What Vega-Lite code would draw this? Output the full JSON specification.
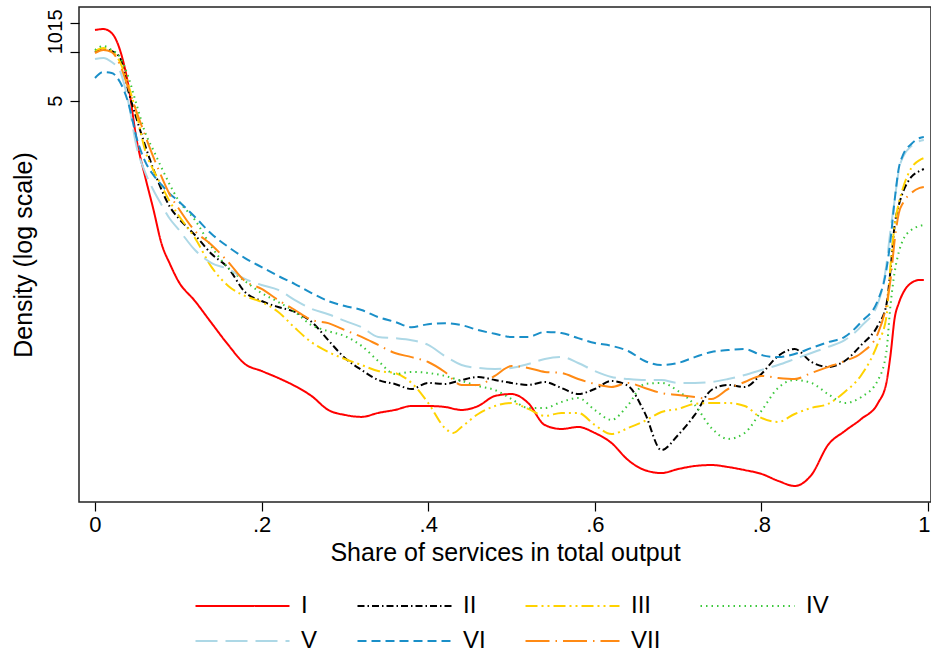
{
"$schema": "https://vega.github.io/schema/vega-lite/v6.json",
"width": 852, "height": 495,
"autosize": "none",
"padding": {"left": 79, "top": 7, "right": 0, "bottom": 152},
"background": "white",
"config": {
  "font": "Liberation Sans",
  "view": {"stroke": "#222", "strokeWidth": 1.5},
  "axis": {"grid": false, "domain": false, "tickColor": "#000", "tickWidth": 1.2, "labelColor": "#000", "titleColor": "#000", "labelFont": "Liberation Sans", "titleFont": "Liberation Sans", "titleFontWeight": "normal"},
  "legend": {"orient": "none", "legendX": 115, "legendY": 587, "direction": "horizontal", "columns": 4, "title": null, "symbolType": "stroke", "symbolSize": 8836, "symbolStrokeWidth": 2.2, "clipHeight": 24, "rowPadding": 11, "columnPadding": 38, "labelOffset": 10, "labelFontSize": 24, "labelFont": "Liberation Sans", "labelColor": "#000", "padding": 0, "gridAlign": "each"}
},
"data": {"values": [
{"s":"I","x":0,"d":13.59},{"s":"I","x":0.01,"d":13.78},{"s":"I","x":0.02,"d":13.03},{"s":"I","x":0.03,"d":10.24},{"s":"I","x":0.04,"d":6.24},{"s":"I","x":0.05,"d":2.87},{"s":"I","x":0.06,"d":1.724},{"s":"I","x":0.07,"d":1.081},{"s":"I","x":0.08,"d":0.659},{"s":"I","x":0.09,"d":0.496},{"s":"I","x":0.1,"d":0.39},{"s":"I","x":0.12,"d":0.294},{"s":"I","x":0.14,"d":0.215},{"s":"I","x":0.16,"d":0.158},{"s":"I","x":0.18,"d":0.1207},{"s":"I","x":0.2,"d":0.1093},{"s":"I","x":0.22,"d":0.099},{"s":"I","x":0.24,"d":0.0884},{"s":"I","x":0.26,"d":0.0767},{"s":"I","x":0.28,"d":0.063},{"s":"I","x":0.3,"d":0.0587},{"s":"I","x":0.32,"d":0.0571},{"s":"I","x":0.34,"d":0.0604},{"s":"I","x":0.36,"d":0.063},{"s":"I","x":0.38,"d":0.0666},{"s":"I","x":0.4,"d":0.0666},{"s":"I","x":0.42,"d":0.0657},{"s":"I","x":0.44,"d":0.063},{"s":"I","x":0.46,"d":0.0666},{"s":"I","x":0.48,"d":0.0767},{"s":"I","x":0.5,"d":0.0789},{"s":"I","x":0.52,"d":0.0695},{"s":"I","x":0.54,"d":0.0509},{"s":"I","x":0.56,"d":0.0481},{"s":"I","x":0.58,"d":0.0495},{"s":"I","x":0.6,"d":0.0455},{"s":"I","x":0.62,"d":0.0395},{"s":"I","x":0.64,"d":0.031},{"s":"I","x":0.66,"d":0.0269},{"s":"I","x":0.68,"d":0.0258},{"s":"I","x":0.7,"d":0.0273},{"s":"I","x":0.72,"d":0.0285},{"s":"I","x":0.74,"d":0.0289},{"s":"I","x":0.76,"d":0.0281},{"s":"I","x":0.78,"d":0.0269},{"s":"I","x":0.8,"d":0.0255},{"s":"I","x":0.82,"d":0.0231},{"s":"I","x":0.84,"d":0.0215},{"s":"I","x":0.86,"d":0.0251},{"s":"I","x":0.88,"d":0.0384},{"s":"I","x":0.9,"d":0.0467},{"s":"I","x":0.92,"d":0.0555},{"s":"I","x":0.94,"d":0.0695},{"s":"I","x":0.95,"d":0.0923},{"s":"I","x":0.955,"d":0.137},{"s":"I","x":0.96,"d":0.231},{"s":"I","x":0.965,"d":0.286},{"s":"I","x":0.97,"d":0.329},{"s":"I","x":0.98,"d":0.38},{"s":"I","x":0.99,"d":0.396},{"s":"I","x":0.995,"d":0.396},
{"s":"II","x":0,"d":9.95},{"s":"II","x":0.01,"d":10.39},{"s":"II","x":0.02,"d":10.1},{"s":"II","x":0.03,"d":9.15},{"s":"II","x":0.04,"d":5.74},{"s":"II","x":0.05,"d":3.86},{"s":"II","x":0.06,"d":2.67},{"s":"II","x":0.07,"d":1.904},{"s":"II","x":0.08,"d":1.415},{"s":"II","x":0.09,"d":1.112},{"s":"II","x":0.1,"d":0.952},{"s":"II","x":0.12,"d":0.748},{"s":"II","x":0.14,"d":0.572},{"s":"II","x":0.16,"d":0.469},{"s":"II","x":0.18,"d":0.334},{"s":"II","x":0.2,"d":0.294},{"s":"II","x":0.22,"d":0.27},{"s":"II","x":0.24,"d":0.252},{"s":"II","x":0.26,"d":0.219},{"s":"II","x":0.28,"d":0.169},{"s":"II","x":0.3,"d":0.1314},{"s":"II","x":0.32,"d":0.1109},{"s":"II","x":0.34,"d":0.0962},{"s":"II","x":0.36,"d":0.091},{"s":"II","x":0.38,"d":0.0847},{"s":"II","x":0.4,"d":0.0923},{"s":"II","x":0.42,"d":0.091},{"s":"II","x":0.44,"d":0.0962},{"s":"II","x":0.46,"d":0.1004},{"s":"II","x":0.48,"d":0.0962},{"s":"II","x":0.5,"d":0.0923},{"s":"II","x":0.52,"d":0.0897},{"s":"II","x":0.54,"d":0.0935},{"s":"II","x":0.56,"d":0.0859},{"s":"II","x":0.58,"d":0.0789},{"s":"II","x":0.6,"d":0.0847},{"s":"II","x":0.62,"d":0.0949},{"s":"II","x":0.64,"d":0.0884},{"s":"II","x":0.66,"d":0.0604},{"s":"II","x":0.68,"d":0.0357},{"s":"II","x":0.7,"d":0.0442},{"s":"II","x":0.72,"d":0.0587},{"s":"II","x":0.74,"d":0.0835},{"s":"II","x":0.76,"d":0.0897},{"s":"II","x":0.78,"d":0.0872},{"s":"II","x":0.8,"d":0.1048},{"s":"II","x":0.82,"d":0.1351},{"s":"II","x":0.84,"d":0.1491},{"s":"II","x":0.86,"d":0.1241},{"s":"II","x":0.88,"d":0.1157},{"s":"II","x":0.9,"d":0.1259},{"s":"II","x":0.92,"d":0.158},{"s":"II","x":0.94,"d":0.209},{"s":"II","x":0.95,"d":0.278},{"s":"II","x":0.955,"d":0.456},{"s":"II","x":0.96,"d":0.862},{"s":"II","x":0.965,"d":1.144},{"s":"II","x":0.97,"d":1.375},{"s":"II","x":0.98,"d":1.7},{"s":"II","x":0.99,"d":1.851},{"s":"II","x":0.995,"d":1.904},
{"s":"III","x":0,"d":10.1},{"s":"III","x":0.01,"d":10.53},{"s":"III","x":0.02,"d":10.1},{"s":"III","x":0.03,"d":8.64},{"s":"III","x":0.04,"d":6.24},{"s":"III","x":0.05,"d":4.14},{"s":"III","x":0.06,"d":2.49},{"s":"III","x":0.07,"d":1.877},{"s":"III","x":0.08,"d":1.497},{"s":"III","x":0.09,"d":1.194},{"s":"III","x":0.1,"d":0.993},{"s":"III","x":0.12,"d":0.717},{"s":"III","x":0.14,"d":0.475},{"s":"III","x":0.16,"d":0.364},{"s":"III","x":0.18,"d":0.316},{"s":"III","x":0.2,"d":0.29},{"s":"III","x":0.22,"d":0.252},{"s":"III","x":0.24,"d":0.201},{"s":"III","x":0.26,"d":0.164},{"s":"III","x":0.28,"d":0.143},{"s":"III","x":0.3,"d":0.1295},{"s":"III","x":0.32,"d":0.119},{"s":"III","x":0.34,"d":0.1093},{"s":"III","x":0.36,"d":0.1063},{"s":"III","x":0.38,"d":0.0923},{"s":"III","x":0.4,"d":0.0695},{"s":"III","x":0.42,"d":0.0488},{"s":"III","x":0.43,"d":0.0455},{"s":"III","x":0.44,"d":0.0495},{"s":"III","x":0.46,"d":0.0595},{"s":"III","x":0.48,"d":0.0666},{"s":"III","x":0.5,"d":0.0695},{"s":"III","x":0.52,"d":0.0639},{"s":"III","x":0.54,"d":0.0579},{"s":"III","x":0.56,"d":0.0604},{"s":"III","x":0.58,"d":0.0604},{"s":"III","x":0.6,"d":0.0509},{"s":"III","x":0.62,"d":0.0448},{"s":"III","x":0.64,"d":0.0488},{"s":"III","x":0.66,"d":0.0539},{"s":"III","x":0.68,"d":0.0612},{"s":"III","x":0.7,"d":0.0639},{"s":"III","x":0.72,"d":0.0686},{"s":"III","x":0.74,"d":0.0695},{"s":"III","x":0.76,"d":0.0695},{"s":"III","x":0.78,"d":0.0666},{"s":"III","x":0.8,"d":0.0563},{"s":"III","x":0.82,"d":0.0532},{"s":"III","x":0.84,"d":0.0595},{"s":"III","x":0.86,"d":0.0648},{"s":"III","x":0.88,"d":0.0686},{"s":"III","x":0.9,"d":0.0812},{"s":"III","x":0.92,"d":0.1033},{"s":"III","x":0.94,"d":0.1625},{"s":"III","x":0.95,"d":0.234},{"s":"III","x":0.955,"d":0.489},{"s":"III","x":0.96,"d":0.862},{"s":"III","x":0.965,"d":1.177},{"s":"III","x":0.97,"d":1.456},{"s":"III","x":0.98,"d":1.931},{"s":"III","x":0.99,"d":2.16},{"s":"III","x":0.995,"d":2.22},
{"s":"IV","x":0,"d":10.24},{"s":"IV","x":0.01,"d":10.84},{"s":"IV","x":0.02,"d":10.24},{"s":"IV","x":0.03,"d":9.27},{"s":"IV","x":0.04,"d":6.99},{"s":"IV","x":0.05,"d":4.71},{"s":"IV","x":0.06,"d":3.21},{"s":"IV","x":0.07,"d":2.49},{"s":"IV","x":0.08,"d":1.931},{"s":"IV","x":0.09,"d":1.518},{"s":"IV","x":0.1,"d":1.228},{"s":"IV","x":0.12,"d":0.925},{"s":"IV","x":0.14,"d":0.632},{"s":"IV","x":0.16,"d":0.469},{"s":"IV","x":0.18,"d":0.39},{"s":"IV","x":0.2,"d":0.329},{"s":"IV","x":0.22,"d":0.29},{"s":"IV","x":0.24,"d":0.252},{"s":"IV","x":0.26,"d":0.209},{"s":"IV","x":0.28,"d":0.192},{"s":"IV","x":0.3,"d":0.179},{"s":"IV","x":0.32,"d":0.156},{"s":"IV","x":0.34,"d":0.1259},{"s":"IV","x":0.36,"d":0.1048},{"s":"IV","x":0.38,"d":0.1078},{"s":"IV","x":0.4,"d":0.1063},{"s":"IV","x":0.42,"d":0.1019},{"s":"IV","x":0.44,"d":0.0949},{"s":"IV","x":0.46,"d":0.0884},{"s":"IV","x":0.48,"d":0.0835},{"s":"IV","x":0.5,"d":0.0735},{"s":"IV","x":0.52,"d":0.0648},{"s":"IV","x":0.54,"d":0.0648},{"s":"IV","x":0.56,"d":0.0705},{"s":"IV","x":0.58,"d":0.0746},{"s":"IV","x":0.6,"d":0.063},{"s":"IV","x":0.62,"d":0.0547},{"s":"IV","x":0.64,"d":0.0676},{"s":"IV","x":0.66,"d":0.091},{"s":"IV","x":0.68,"d":0.0923},{"s":"IV","x":0.7,"d":0.0823},{"s":"IV","x":0.72,"d":0.0676},{"s":"IV","x":0.74,"d":0.0488},{"s":"IV","x":0.76,"d":0.0418},{"s":"IV","x":0.78,"d":0.0455},{"s":"IV","x":0.8,"d":0.0621},{"s":"IV","x":0.82,"d":0.0859},{"s":"IV","x":0.84,"d":0.0962},{"s":"IV","x":0.86,"d":0.0923},{"s":"IV","x":0.88,"d":0.0789},{"s":"IV","x":0.9,"d":0.0695},{"s":"IV","x":0.92,"d":0.0756},{"s":"IV","x":0.94,"d":0.0962},{"s":"IV","x":0.95,"d":0.143},{"s":"IV","x":0.955,"d":0.278},{"s":"IV","x":0.96,"d":0.443},{"s":"IV","x":0.965,"d":0.588},{"s":"IV","x":0.97,"d":0.697},{"s":"IV","x":0.98,"d":0.803},{"s":"IV","x":0.99,"d":0.85},{"s":"IV","x":0.995,"d":0.862},
{"s":"V","x":0,"d":9.02},{"s":"V","x":0.01,"d":9.15},{"s":"V","x":0.02,"d":8.64},{"s":"V","x":0.03,"d":7.61},{"s":"V","x":0.04,"d":4.91},{"s":"V","x":0.05,"d":2.6},{"s":"V","x":0.06,"d":1.825},{"s":"V","x":0.07,"d":1.415},{"s":"V","x":0.08,"d":1.144},{"s":"V","x":0.09,"d":0.938},{"s":"V","x":0.1,"d":0.814},{"s":"V","x":0.12,"d":0.605},{"s":"V","x":0.14,"d":0.503},{"s":"V","x":0.16,"d":0.462},{"s":"V","x":0.18,"d":0.402},{"s":"V","x":0.2,"d":0.369},{"s":"V","x":0.22,"d":0.344},{"s":"V","x":0.24,"d":0.298},{"s":"V","x":0.26,"d":0.263},{"s":"V","x":0.28,"d":0.244},{"s":"V","x":0.3,"d":0.222},{"s":"V","x":0.32,"d":0.203},{"s":"V","x":0.34,"d":0.177},{"s":"V","x":0.36,"d":0.174},{"s":"V","x":0.38,"d":0.169},{"s":"V","x":0.4,"d":0.158},{"s":"V","x":0.42,"d":0.1351},{"s":"V","x":0.44,"d":0.119},{"s":"V","x":0.46,"d":0.1141},{"s":"V","x":0.48,"d":0.1125},{"s":"V","x":0.5,"d":0.1141},{"s":"V","x":0.52,"d":0.1207},{"s":"V","x":0.54,"d":0.1295},{"s":"V","x":0.56,"d":0.1332},{"s":"V","x":0.58,"d":0.1224},{"s":"V","x":0.6,"d":0.1093},{"s":"V","x":0.62,"d":0.1004},{"s":"V","x":0.64,"d":0.0976},{"s":"V","x":0.66,"d":0.0962},{"s":"V","x":0.68,"d":0.0962},{"s":"V","x":0.7,"d":0.0923},{"s":"V","x":0.72,"d":0.0923},{"s":"V","x":0.74,"d":0.0935},{"s":"V","x":0.76,"d":0.0976},{"s":"V","x":0.78,"d":0.1033},{"s":"V","x":0.8,"d":0.1109},{"s":"V","x":0.82,"d":0.119},{"s":"V","x":0.84,"d":0.1295},{"s":"V","x":0.86,"d":0.141},{"s":"V","x":0.88,"d":0.1536},{"s":"V","x":0.9,"d":0.169},{"s":"V","x":0.92,"d":0.206},{"s":"V","x":0.94,"d":0.286},{"s":"V","x":0.95,"d":0.489},{"s":"V","x":0.955,"d":0.803},{"s":"V","x":0.96,"d":1.228},{"s":"V","x":0.965,"d":1.877},{"s":"V","x":0.97,"d":2.26},{"s":"V","x":0.98,"d":2.63},{"s":"V","x":0.99,"d":2.83},{"s":"V","x":0.995,"d":2.87},
{"s":"VI","x":0,"d":6.89},{"s":"VI","x":0.01,"d":7.5},{"s":"VI","x":0.02,"d":7.4},{"s":"VI","x":0.03,"d":6.51},{"s":"VI","x":0.04,"d":4.85},{"s":"VI","x":0.05,"d":2.95},{"s":"VI","x":0.06,"d":2.13},{"s":"VI","x":0.07,"d":1.749},{"s":"VI","x":0.08,"d":1.518},{"s":"VI","x":0.09,"d":1.337},{"s":"VI","x":0.1,"d":1.211},{"s":"VI","x":0.12,"d":0.965},{"s":"VI","x":0.14,"d":0.759},{"s":"VI","x":0.16,"d":0.632},{"s":"VI","x":0.18,"d":0.54},{"s":"VI","x":0.2,"d":0.475},{"s":"VI","x":0.22,"d":0.419},{"s":"VI","x":0.24,"d":0.374},{"s":"VI","x":0.26,"d":0.329},{"s":"VI","x":0.28,"d":0.294},{"s":"VI","x":0.3,"d":0.274},{"s":"VI","x":0.32,"d":0.259},{"s":"VI","x":0.34,"d":0.234},{"s":"VI","x":0.36,"d":0.219},{"s":"VI","x":0.38,"d":0.203},{"s":"VI","x":0.4,"d":0.212},{"s":"VI","x":0.42,"d":0.215},{"s":"VI","x":0.44,"d":0.209},{"s":"VI","x":0.46,"d":0.195},{"s":"VI","x":0.48,"d":0.185},{"s":"VI","x":0.5,"d":0.177},{"s":"VI","x":0.52,"d":0.177},{"s":"VI","x":0.54,"d":0.19},{"s":"VI","x":0.56,"d":0.187},{"s":"VI","x":0.58,"d":0.174},{"s":"VI","x":0.6,"d":0.1625},{"s":"VI","x":0.62,"d":0.156},{"s":"VI","x":0.64,"d":0.145},{"s":"VI","x":0.66,"d":0.1259},{"s":"VI","x":0.68,"d":0.119},{"s":"VI","x":0.7,"d":0.1224},{"s":"VI","x":0.72,"d":0.133},{"s":"VI","x":0.74,"d":0.143},{"s":"VI","x":0.76,"d":0.147},{"s":"VI","x":0.78,"d":0.149},{"s":"VI","x":0.8,"d":0.137},{"s":"VI","x":0.82,"d":0.133},{"s":"VI","x":0.84,"d":0.139},{"s":"VI","x":0.86,"d":0.1513},{"s":"VI","x":0.88,"d":0.1643},{"s":"VI","x":0.9,"d":0.177},{"s":"VI","x":0.92,"d":0.219},{"s":"VI","x":0.94,"d":0.298},{"s":"VI","x":0.95,"d":0.456},{"s":"VI","x":0.955,"d":0.697},{"s":"VI","x":0.96,"d":1.228},{"s":"VI","x":0.965,"d":1.931},{"s":"VI","x":0.97,"d":2.32},{"s":"VI","x":0.98,"d":2.71},{"s":"VI","x":0.99,"d":2.95},{"s":"VI","x":0.995,"d":2.99},
{"s":"VII","x":0,"d":9.81},{"s":"VII","x":0.01,"d":10.24},{"s":"VII","x":0.02,"d":9.95},{"s":"VII","x":0.03,"d":8.29},{"s":"VII","x":0.04,"d":5.99},{"s":"VII","x":0.05,"d":4.26},{"s":"VII","x":0.06,"d":3.08},{"s":"VII","x":0.07,"d":2.26},{"s":"VII","x":0.08,"d":1.7},{"s":"VII","x":0.09,"d":1.318},{"s":"VII","x":0.1,"d":1.097},{"s":"VII","x":0.12,"d":0.792},{"s":"VII","x":0.14,"d":0.65},{"s":"VII","x":0.16,"d":0.51},{"s":"VII","x":0.18,"d":0.39},{"s":"VII","x":0.2,"d":0.349},{"s":"VII","x":0.22,"d":0.298},{"s":"VII","x":0.24,"d":0.259},{"s":"VII","x":0.26,"d":0.225},{"s":"VII","x":0.28,"d":0.215},{"s":"VII","x":0.3,"d":0.195},{"s":"VII","x":0.32,"d":0.177},{"s":"VII","x":0.34,"d":0.158},{"s":"VII","x":0.36,"d":0.141},{"s":"VII","x":0.38,"d":0.133},{"s":"VII","x":0.4,"d":0.1241},{"s":"VII","x":0.42,"d":0.1078},{"s":"VII","x":0.44,"d":0.0897},{"s":"VII","x":0.46,"d":0.0897},{"s":"VII","x":0.48,"d":0.1019},{"s":"VII","x":0.5,"d":0.1173},{"s":"VII","x":0.52,"d":0.1141},{"s":"VII","x":0.54,"d":0.1078},{"s":"VII","x":0.56,"d":0.1063},{"s":"VII","x":0.58,"d":0.0976},{"s":"VII","x":0.6,"d":0.091},{"s":"VII","x":0.62,"d":0.0872},{"s":"VII","x":0.64,"d":0.0923},{"s":"VII","x":0.66,"d":0.0859},{"s":"VII","x":0.68,"d":0.08},{"s":"VII","x":0.7,"d":0.0778},{"s":"VII","x":0.72,"d":0.0756},{"s":"VII","x":0.74,"d":0.0735},{"s":"VII","x":0.76,"d":0.0847},{"s":"VII","x":0.78,"d":0.0935},{"s":"VII","x":0.8,"d":0.1019},{"s":"VII","x":0.82,"d":0.099},{"s":"VII","x":0.84,"d":0.0976},{"s":"VII","x":0.86,"d":0.1063},{"s":"VII","x":0.88,"d":0.1157},{"s":"VII","x":0.9,"d":0.1259},{"s":"VII","x":0.92,"d":0.141},{"s":"VII","x":0.94,"d":0.187},{"s":"VII","x":0.95,"d":0.278},{"s":"VII","x":0.955,"d":0.396},{"s":"VII","x":0.96,"d":0.697},{"s":"VII","x":0.965,"d":1.022},{"s":"VII","x":0.97,"d":1.177},{"s":"VII","x":0.98,"d":1.356},{"s":"VII","x":0.99,"d":1.456},{"s":"VII","x":0.995,"d":1.476}
]},
"mark": {"type": "line", "strokeWidth": 2, "interpolate": "monotone", "clip": true},
"encoding": {
  "x": {"field": "x", "type": "quantitative",
    "scale": {"domain": [-0.0192, 1.0036], "nice": false, "zero": false},
    "axis": {"values": [0, 0.2, 0.4, 0.6, 0.8, 1], "labelExpr": "datum.value == 0 ? '0' : datum.value == 1 ? '1' : replace(format(datum.value, '.1f'), '0.', '.')", "labelFlush": false, "labelAlign": {"condition": {"test": "datum.value == 1", "value": "right"}, "value": "center"}, "labelOffset": {"condition": {"test": "datum.value == 1", "value": 2}, "value": 0}, "tickSize": 9, "labelFontSize": 22, "labelPadding": 3, "title": "Share of services in total output", "titleFontSize": 25, "titlePadding": 5}},
  "y": {"field": "d", "type": "quantitative",
    "scale": {"type": "log", "domain": [0.01713, 18.82], "nice": false},
    "axis": {"values": [5, 10, 15], "labelAngle": -90, "labelOverlap": false, "labelFlush": false, "tickSize": 9, "labelFontSize": 20, "labelPadding": 5, "labelOffset": {"condition": [{"test": "datum.value == 10", "value": -9}, {"test": "datum.value == 15", "value": -3}], "value": 0}, "title": "Density (log scale)", "titleFontSize": 25, "titlePadding": 9}},
  "color": {"field": "s", "type": "nominal",
    "scale": {"domain": ["I", "II", "III", "IV", "V", "VI", "VII"], "range": ["#ff0000", "#000000", "#ffd200", "#3cc83c", "#add8e6", "#1a8fc8", "#ff8a14"]}},
  "strokeDash": {"field": "s", "type": "nominal",
    "scale": {"domain": ["I", "II", "III", "IV", "V", "VI", "VII"], "range": [[1, 0], [7, 3, 1.5, 3], [12, 4, 2, 4, 2, 4], [1.5, 4], [22, 8], [9, 5], [24, 6, 1.5, 6]]}}
}
}
